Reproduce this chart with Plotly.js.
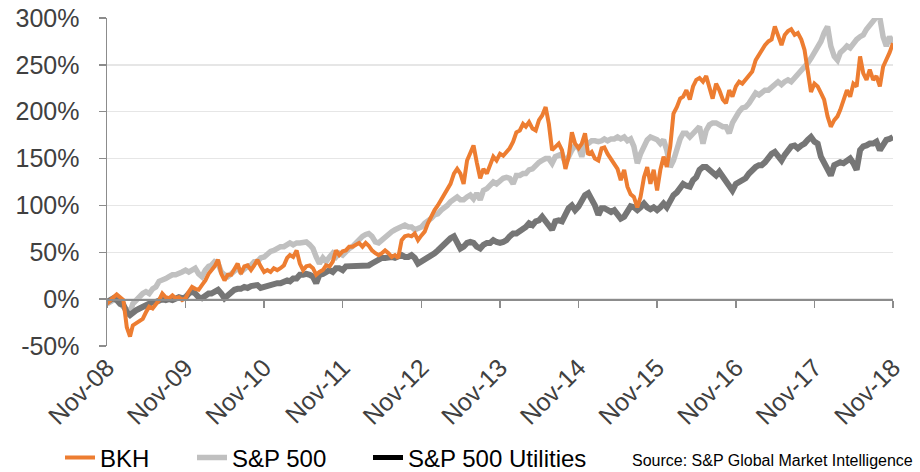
<!DOCTYPE html>
<html>
<head>
<meta charset="utf-8">
<script src="https://cdn.plot.ly/plotly-3.0.1.min.js"></script>
<style>html,body{margin:0;padding:0;background:#fff;}#chart{width:920px;height:472px;}</style>
</head>
<body>
<div id="chart"></div>
<script>
// Semi-monthly observations (1st and 16th), Nov-08 .. Nov-18, cumulative total return in %
const startYear = 2008, startMonth = 11, nPoints = 241;

const bkh = [
  -5, -1, 2, 5, 2, -1, -30, -40, -28, -26, -24, -21, -14,
  -8, -10, -5, -1, 6, 2, 1, 4, 1, 2, -1, 1,
  8, 13, 11, 10, 15, 20, 27, 31, 35, 42, 27, 20,
  26, 26, 33, 38, 27, 35, 36, 31, 36, 42, 35, 29,
  31, 29, 33, 31, 33, 36, 44, 47, 45, 52, 38, 31,
  35, 36, 33, 26, 29, 31, 36, 35, 40, 52, 47, 51,
  52, 56, 56, 58, 60, 56, 60, 57,
  52, 49, 47, 49, 52, 49, 45, 47, 44, 63, 67, 68, 67, 70, 63, 68,
  72, 81, 88, 95, 100, 106, 111, 116, 123, 134, 139, 134, 123, 148, 155, 164,
  146, 129, 139, 134, 143, 152, 148, 155, 153, 157, 161, 168, 178, 180, 187, 184,
  189, 182, 180, 191, 196, 205, 187, 159, 162, 166, 159, 139, 152, 178, 166, 161,
  166, 177, 154, 157, 150, 148, 161, 162, 155, 150, 145, 139, 127, 138, 120, 112,
  109, 98, 109, 130, 141, 123, 138, 116, 138, 152, 141, 163, 198, 205, 214, 216,
  223, 213, 227, 234, 236, 232, 238, 227, 214, 230, 223, 213, 209, 223, 216, 227,
  232, 230, 234, 238, 243, 255, 261, 266, 271, 275, 277, 291, 280, 271, 282, 286,
  288, 282, 284, 277, 266, 245, 221, 230, 227, 220, 213, 195, 184, 191, 195, 202,
  213, 223, 216, 230, 227, 259, 241, 234, 245, 234, 238, 227, 248, 255, 263, 273
];

const sp500 = [
  -5, -3, -1, 1, -5, -8, -12, -14, -5, -1, 2, 6, 8,
  6, 11, 13, 19, 20, 22, 24, 26, 26, 27, 29, 31,
  29, 31, 33, 27, 24, 31, 35, 36, 40, 38, 29, 26,
  24, 27, 31, 33, 29, 33, 35, 36, 40, 40, 44, 45,
  49, 51, 52, 54, 56, 56, 58, 60, 58, 60, 60, 60,
  61, 58, 54, 45, 38, 44, 40, 45, 49, 45, 49, 47,
  51, 54, 56, 60, 63, 67, 69, 70,
  67, 61, 60, 63, 67, 70, 72, 74, 76, 77, 79, 77, 77, 74, 76, 77,
  81, 83, 86, 90, 91, 95, 97, 100, 104, 106, 109, 106, 106, 109, 111, 107,
  113, 106, 116, 118, 122, 125, 123, 127, 129, 130, 129, 123, 132, 132, 134, 134,
  138, 139, 143, 146, 148, 150, 150, 145, 152, 154, 155, 145, 154, 159, 164, 162,
  152, 164, 166, 169, 169, 168, 169, 171, 169, 171, 171, 173, 171, 173, 169, 171,
  163, 145, 155, 163, 170, 173, 171, 170, 166, 170, 159, 141, 148, 163, 171, 177,
  177, 173, 177, 180, 184, 166, 180, 186, 188, 188, 186, 184, 184, 177, 188, 195,
  200, 204, 205, 209, 214, 220, 218, 220, 223, 223, 227, 229, 232, 229, 232, 234,
  232, 236, 239, 243, 248, 252, 257, 263, 268, 275, 284, 291, 270, 259, 255, 263,
  266, 270, 268, 273, 277, 280, 282, 288, 293, 298, 301, 300, 280, 270, 280, 273
];

const spUtil = [
  -3, -1, 1, -1, -5, -6, -14, -17, -14, -12, -10, -8, -6,
  -5, -3, -3, -1, 0, -1, 0, -1, 1, 2, 1, 2,
  6, 8, 6, 2, 1, 4, 6, 6, 8, 10, 6, 1,
  4, 8, 10, 11, 11, 13, 12, 14, 15, 15, 12, 13,
  15, 15, 17, 17, 17, 19, 20, 19, 22, 22, 26, 26,
  27, 26, 24, 17, 26, 27, 29, 31, 29, 33, 33, 31,
  35, 35, 36, 35, 35, 35, 35, 36,
  38, 40, 42, 44, 44, 45, 45, 44, 45, 47, 45, 45, 47, 44, 38, 40,
  42, 45, 47, 49, 52, 56, 58, 61, 65, 67, 60, 54, 56, 60, 61, 60,
  56, 54, 58, 60, 60, 63, 61, 60, 61, 63, 67, 70, 70, 72, 74, 77,
  81, 79, 83, 84, 88, 83, 81, 74, 83, 84, 83, 90, 97, 100, 95, 99,
  106, 111, 113, 107, 100, 90, 97, 97, 95, 93, 95, 90, 86, 88, 93, 99,
  98, 95, 98, 102, 98, 96, 98, 95, 98, 102, 98, 105, 111, 114, 118, 123,
  121, 120, 127, 130, 138, 141, 141, 138, 134, 132, 136, 130, 127, 121, 116, 123,
  125, 127, 129, 134, 138, 141, 143, 143, 146, 152, 155, 157, 152, 148, 154, 159,
  163, 164, 161, 164, 166, 170, 173, 168, 166, 152, 146, 138, 132, 143, 145, 146,
  145, 148, 150, 145, 138, 159, 163, 164, 166, 166, 168, 159, 166, 170, 171, 173
];

const seriesNames = ['BKH', 'S&P 500', 'S&P 500 Utilities'];
const xTickVals = ['2008-11-01','2009-11-01','2010-11-01','2011-11-01','2012-11-01','2013-11-01',
                   '2014-11-01','2015-11-01','2016-11-01','2017-11-01','2018-11-01'];
const xTickText = ['Nov-08','Nov-09','Nov-10','Nov-11','Nov-12','Nov-13','Nov-14','Nov-15','Nov-16','Nov-17','Nov-18'];
const yTickVals = [-50, 0, 50, 100, 150, 200, 250, 300];
const yTickText = ['-50%','0%','50%','100%','150%','200%','250%','300%'];
const sourceText = 'Source: S&P Global Market Intelligence';

// observation dates: 1st and 16th of each month
const dates = [];
for (let i = 0; i < nPoints; i++) {
  const t = (startMonth - 1) + Math.floor(i / 2);
  const y = startYear + Math.floor(t / 12);
  const m = (t % 12) + 1;
  dates.push(y + '-' + String(m).padStart(2, '0') + (i % 2 === 0 ? '-01' : '-16'));
}

const cOrange = '#ED7D31', cLight = '#C0C0C0', cDark = '#767676';

const traces = [
  {x: dates, y: sp500, name: seriesNames[1], type: 'scatter', mode: 'lines',
   line: {color: cLight, width: 5.5}, legend: 'legend2', hoverinfo: 'skip'},
  {x: dates, y: spUtil, name: seriesNames[2], type: 'scatter', mode: 'lines',
   line: {color: cDark, width: 6}, showlegend: false, hoverinfo: 'skip'},
  {x: dates, y: bkh, name: seriesNames[0], type: 'scatter', mode: 'lines',
   line: {color: cOrange, width: 4}, legend: 'legend', hoverinfo: 'skip'},
  // legend key for the utilities index (drawn black in the original key)
  {x: [null], y: [null], name: seriesNames[2], type: 'scatter', mode: 'lines',
   line: {color: '#000000', width: 5}, legend: 'legend3', xaxis: 'x2', hoverinfo: 'skip'}
];

const fontFam = '"Liberation Sans", Arial, sans-serif';
const legBase = {orientation: 'h', xref: 'container', yref: 'container', xanchor: 'left', yanchor: 'middle',
  font: {family: fontFam, size: 24, color: '#000'}, bgcolor: 'rgba(0,0,0,0)', borderwidth: 0};

const layout = {
  width: 920, height: 472,
  margin: {l: 107, r: 27, t: 18, b: 126, pad: 0},
  paper_bgcolor: '#fff', plot_bgcolor: '#fff',
  font: {family: fontFam, color: '#404040'},
  showlegend: true,
  xaxis: {type: 'date', range: [xTickVals[0], xTickVals[xTickVals.length - 1]],
    tickmode: 'array', tickvals: xTickVals, ticktext: xTickText, tickangle: -45,
    showgrid: false, showline: false, zeroline: false, ticks: '',
    ticklabelstandoff: 1,
    tickfont: {family: fontFam, size: 25, color: '#404040'}},
  xaxis2: {type: 'date', overlaying: 'x', anchor: 'free', position: 1/7, side: 'bottom',
    range: [xTickVals[0], xTickVals[xTickVals.length - 1]],
    tickmode: 'array', tickvals: xTickVals, showticklabels: false,
    ticks: 'outside', ticklen: 7, tickwidth: 1.5, tickcolor: '#8c8c8c',
    showline: true, linecolor: '#8c8c8c', linewidth: 1.5, showgrid: false, zeroline: false},
  yaxis: {range: [-50, 300], tickmode: 'array', tickvals: yTickVals, ticktext: yTickText,
    showline: true, linecolor: '#8c8c8c', linewidth: 1.5,
    ticks: 'outside', ticklen: 7, tickwidth: 1.5, tickcolor: '#8c8c8c',
    showgrid: true, gridcolor: '#e6e6e6', gridwidth: 1.5, zeroline: false,
    ticklabelstandoff: 14,
    tickfont: {family: fontFam, size: 25, color: '#404040'}},
  legend: Object.assign({}, legBase, {x: 60/920, y: 1 - 458/472}),
  legend2: Object.assign({}, legBase, {x: 192/920, y: 1 - 458/472}),
  legend3: Object.assign({}, legBase, {x: 368/920, y: 1 - 458/472}),
  annotations: [{text: sourceText, xref: 'paper', yref: 'paper', x: (915 - 107) / 786, y: (346 - 460) / 328,
    xanchor: 'right', yanchor: 'middle', showarrow: false,
    font: {family: fontFam, size: 16, color: '#000'}}]
};

Plotly.newPlot('chart', traces, layout, {displayModeBar: false, staticPlot: true});
</script>
</body>
</html>
